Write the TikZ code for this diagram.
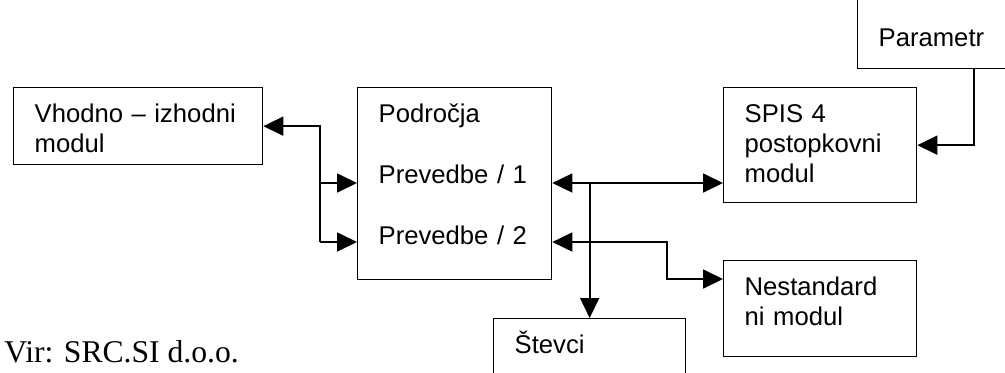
\documentclass[tikz,border=0pt]{standalone}
\usepackage{fontspec}
\setmainfont{Liberation Sans}
\newfontfamily\virfont{Liberation Serif}
\usetikzlibrary{arrows.meta}

\begin{document}
\begin{tikzpicture}[
  modbox/.style={draw=black, line width=0.75pt, anchor=north west,
    inner xsep=0.42cm, inner ysep=0pt, text height=0.70cm,
    align=left, font=\fontsize{14.6}{17}\selectfont},
  flowarrow/.style={-{Triangle[length=4mm, width=3.8mm]}, line width=1pt},
  botharrow/.style={{Triangle[length=4mm, width=3.8mm]}-{Triangle[length=4mm, width=3.8mm]}, line width=1pt}
]
\path[use as bounding box, clip] (0,0) rectangle (20.1,-7.44);
\node[modbox, text width=4.14cm, text depth=0.84cm] (vhod) at (0.26,-1.74) {Vhodno – izhodni\\modul};
\node[modbox, text width=3.04cm, text depth=3.14cm] (podr) at (7.14,-1.74) {Področja\\[0.62cm]Prevedbe / 1\\[0.62cm]Prevedbe / 2};
\node[modbox, text width=3.02cm, text depth=1.60cm] (spis) at (14.46,-1.74) {SPIS 4\\postopkovni\\modul};
\node[modbox, text width=3.02cm, text depth=1.22cm] (nest) at (14.46,-5.20) {Nestandard\\ni modul};
\node[modbox, text width=3.00cm, text depth=2.00cm] (stev) at (9.86,-6.36) {Števci};
\node[modbox, text width=3.80cm, text height=1.12cm, text depth=0.44cm] (param) at (17.14,0.20) {Parametr};
\node[anchor=base west, inner sep=0pt, font=\virfont\fontsize{18}{20}\selectfont] (source) at (0.08,-7.24) {Vir: SRC.SI d.o.o.};
\coordinate (in1) at ([yshift=-1.92cm]podr.north west);
\coordinate (in2) at ([yshift=-3.10cm]podr.north west);
\coordinate (out1) at ([yshift=-1.92cm]podr.north east);
\coordinate (out2) at ([yshift=-3.10cm]podr.north east);
\coordinate (lbus) at ([xshift=-0.74cm]in2);
\coordinate (nin) at ([yshift=-0.38cm]nest.north west);
\draw[flowarrow] (lbus) |- (vhod.east);
\draw[flowarrow] (lbus |- in1) -- (in1);
\draw[flowarrow] (lbus) -- (in2);
\draw[botharrow] (out1) -- (out1 -| spis.west);
\draw[flowarrow] (out1 -| stev.north) -- (stev.north);
\draw[botharrow] (out2) -- ++(2.30,0) |- (nin);
\draw[flowarrow] (param.south) |- (spis.east);
\end{tikzpicture}
\end{document}
